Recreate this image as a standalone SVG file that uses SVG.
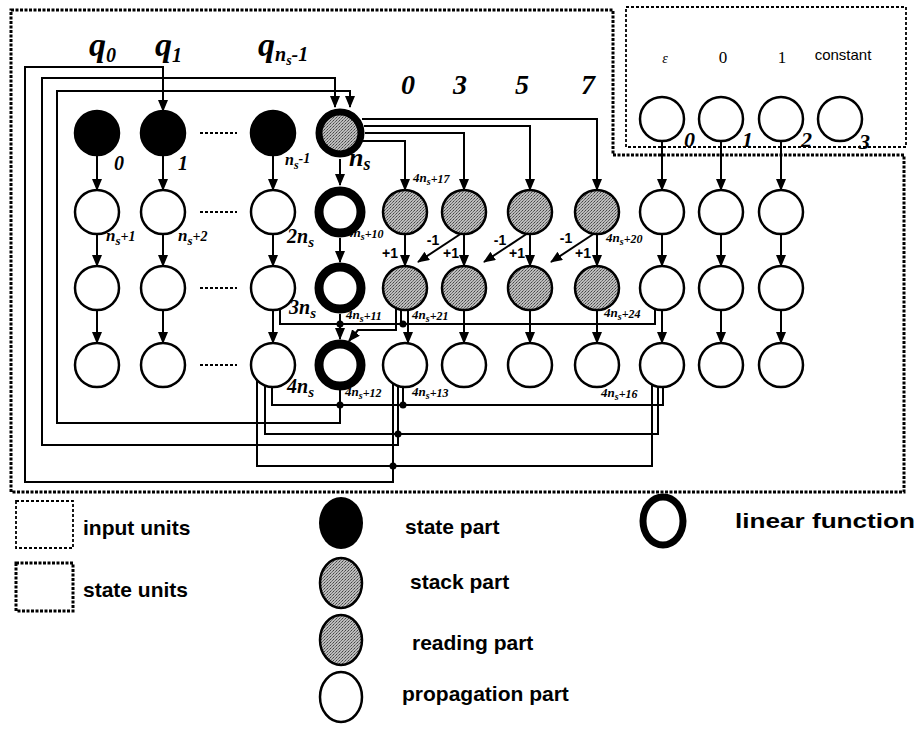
<svg xmlns="http://www.w3.org/2000/svg" width="924" height="731" viewBox="0 0 924 731">
<style>
.c{fill:#fff;stroke:#000;stroke-width:2.5}
.blk{fill:#000;stroke:#000;stroke-width:2.5}
.gr{fill:url(#stip);stroke:#000;stroke-width:2.5}
.lin{fill:#fff;stroke:#000;stroke-width:9}
.nsr{fill:url(#stip);stroke:#000;stroke-width:7}
.ln{fill:none;stroke:#000;stroke-width:2}
.ar{fill:none;stroke:#000;stroke-width:2;marker-end:url(#ah)}
.dots{fill:none;stroke:#000;stroke-width:2;stroke-dasharray:3 2}
.lb{font-family:"Liberation Serif",serif;font-weight:bold;font-style:italic;fill:#000}
.pm{font-family:"Liberation Sans",sans-serif;font-weight:bold;font-size:14px;fill:#000;text-anchor:middle}
.lg{font-family:"Liberation Sans",sans-serif;font-weight:bold;font-size:21px;fill:#000}
.jn{fill:#000}
</style>
<defs>
<marker id="ah" markerWidth="12" markerHeight="10" refX="11" refY="5" orient="auto" markerUnits="userSpaceOnUse"><path d="M0,0 L12,5 L0,10 z" fill="#000"/></marker>
<pattern id="stip" width="3" height="3" patternUnits="userSpaceOnUse"><rect width="3" height="3" fill="#bcbcbc"/><rect width="1" height="1" fill="#444"/><rect x="2" y="1" width="1" height="1" fill="#666"/><rect x="1" y="2" width="1" height="1" fill="#777"/></pattern>
</defs>

<g id="boxes">
<path d="M11,10 H613 V155 H904 V492 H11 Z" fill="none" stroke="#000" stroke-width="3" stroke-dasharray="3 1.5"/>
<rect x="626" y="7" width="280" height="140" fill="none" stroke="#000" stroke-width="1.8" stroke-dasharray="3 2"/>
</g>

<g id="connectors">
<!-- feedback loops -->
<path class="ar" d="M393,384 V482 H25 V67 H163 V111"/>
<path class="ar" d="M398,386 V445 H42 V78 H335 V107"/>
<path class="ar" d="M340,390 V423 H57 V91 H350 V107"/>
<!-- buses at bottom -->
<path class="ln" d="M272,387 V405 H663 V387"/>
<path class="ln" d="M403,387 V405"/>
<path class="ln" d="M265,385 V434 H658 V386"/>
<path class="ln" d="M257,380 V466 H652 V384"/>
<circle class="jn" cx="340" cy="405" r="3.5"/>
<circle class="jn" cx="403" cy="405" r="3.5"/>
<circle class="jn" cx="398" cy="434" r="3.5"/>
<circle class="jn" cx="393" cy="466" r="3.5"/>
<!-- row 3 bus -->
<path class="ln" d="M280,309 V324 H655 V309"/>
<path class="ln" d="M401,310 V324"/>
<circle class="jn" cx="340" cy="324" r="3.5"/>
<circle class="jn" cx="403" cy="324" r="3.5"/>
<path class="ar" d="M396,309 V330 H358 L349,341"/>
<!-- from ns to stack -->
<path class="ar" d="M362,119 H597 V190"/>
<path class="ar" d="M364,126 H530 V190"/>
<path class="ar" d="M365,133 H464 V190"/>
<path class="ar" d="M362,141 H405 V190"/>
<!-- input to row 2 -->
<path class="ar" d="M662,142 V190"/>
<path class="ar" d="M721,142 V190"/>
<path class="ar" d="M781,142 V190"/>
<!-- row1 -> row2 -->
<path class="ar" d="M97,155 V190"/>
<path class="ar" d="M163,155 V190"/>
<path class="ar" d="M273,155 V190"/>
<path class="ar" d="M340,159 V185"/>
<!-- row2 -> row3 -->
<path class="ar" d="M97,234 V266"/>
<path class="ar" d="M163,234 V266"/>
<path class="ar" d="M273,234 V266"/>
<path class="ar" d="M340,238 V262"/>
<path class="ar" d="M405,234 V266"/>
<path class="ar" d="M464,234 V266"/>
<path class="ar" d="M530,234 V266"/>
<path class="ar" d="M597,234 V266"/>
<path class="ar" d="M662,234 V266"/>
<path class="ar" d="M721,234 V266"/>
<path class="ar" d="M781,234 V266"/>
<!-- diagonals -->
<path class="ar" d="M462,233 L418,262"/>
<path class="ar" d="M528,233 L484,262"/>
<path class="ar" d="M595,233 L551,262"/>
<!-- row3 -> row4 -->
<path class="ar" d="M97,310 V343"/>
<path class="ar" d="M163,310 V343"/>
<path class="ar" d="M273,310 V343"/>
<path class="ar" d="M340,314 V339"/>
<path class="ar" d="M408,310 V343"/>
<path class="ar" d="M464,310 V343"/>
<path class="ar" d="M530,310 V343"/>
<path class="ar" d="M597,310 V343"/>
<path class="ar" d="M662,310 V343"/>
<path class="ar" d="M721,310 V343"/>
<path class="ar" d="M781,310 V343"/>
<!-- ellipsis dots -->
<path class="dots" d="M200,133 H237 M200,212 H237 M200,288 H237 M200,365 H237"/>
</g>

<g id="top-labels">
<text class="lb" x="89" y="56" font-size="34">q<tspan font-size="20" dy="6">0</tspan></text>
<text class="lb" x="155" y="56" font-size="34">q<tspan font-size="20" dy="6">1</tspan></text>
<text class="lb" x="258" y="56" font-size="34">q<tspan font-size="20" dy="5">n</tspan><tspan font-size="14" dy="4">s</tspan><tspan font-size="20" dy="-4">-1</tspan></text>
<text class="lb" x="408" y="94" font-size="28" text-anchor="middle">0</text>
<text class="lb" x="460" y="94" font-size="28" text-anchor="middle">3</text>
<text class="lb" x="522" y="94" font-size="28" text-anchor="middle">5</text>
<text class="lb" x="588" y="94" font-size="28" text-anchor="middle">7</text>
</g>

<g id="input-units">
<text x="665" y="63" font-family="Liberation Serif,serif" font-style="italic" font-size="14" text-anchor="middle">ε</text>
<text x="723" y="63" font-family="Liberation Serif,serif" font-size="17" text-anchor="middle">0</text>
<text x="782" y="63" font-family="Liberation Serif,serif" font-size="17" text-anchor="middle">1</text>
<text x="843" y="60" font-family="Liberation Sans,sans-serif" font-size="15" text-anchor="middle">constant</text>
<g id="in0"><circle class="c" cx="662" cy="119" r="22"/><text class="lb" x="684" y="147" font-size="22">0</text></g>
<g id="in1"><circle class="c" cx="721" cy="119" r="22"/><text class="lb" x="742" y="147" font-size="22">1</text></g>
<g id="in2"><circle class="c" cx="781" cy="119" r="22"/><text class="lb" x="801" y="147" font-size="22">2</text></g>
<g id="in3"><circle class="c" cx="840" cy="119" r="22"/><text class="lb" x="859" y="149" font-size="22">3</text></g>
</g>

<g id="state-units">
<g id="s0"><circle class="blk" cx="97" cy="133" r="22"/><text class="lb" x="114" y="170" font-size="20">0</text></g>
<g id="s1"><circle class="blk" cx="163" cy="133" r="22"/><text class="lb" x="178" y="170" font-size="20">1</text></g>
<g id="s-ns-1"><circle class="blk" cx="273" cy="133" r="22"/><text class="lb" x="285" y="165" font-size="16">n<tspan font-size="12" dy="4">s</tspan><tspan font-size="14" dy="-6">-1</tspan></text></g>
<g id="s-ns"><circle class="nsr" cx="340" cy="133" r="21"/><text class="lb" x="349" y="166" font-size="26">n<tspan font-size="18" dy="4">s</tspan></text></g>

<g id="p-ns1"><circle class="c" cx="97" cy="212" r="22"/><text class="lb" x="106" y="241" font-size="17">n<tspan font-size="13" dy="4">s</tspan><tspan font-size="14" dy="-4">+1</tspan></text></g>
<g id="p-ns2"><circle class="c" cx="163" cy="212" r="22"/><text class="lb" x="178" y="241" font-size="17">n<tspan font-size="13" dy="4">s</tspan><tspan font-size="14" dy="-4">+2</tspan></text></g>
<g id="p-2ns"><circle class="c" cx="273" cy="212" r="22"/><text class="lb" x="287" y="243" font-size="20">2n<tspan font-size="15" dy="4">s</tspan></text></g>
<g id="l-4ns10"><circle class="lin" cx="340" cy="212" r="21"/><text class="lb" x="347" y="237" font-size="13">4n<tspan font-size="10" dy="3">s</tspan><tspan font-size="12" dy="-2">+10</tspan></text></g>
<g id="k-1"><circle class="gr" cx="405" cy="212" r="22"/><text class="lb" x="413" y="182" font-size="13">4n<tspan font-size="10" dy="3">s</tspan><tspan font-size="12" dy="-2">+17</tspan></text></g>
<g id="k-2"><circle class="gr" cx="464" cy="212" r="22"/></g>
<g id="k-3"><circle class="gr" cx="530" cy="212" r="22"/></g>
<g id="k-4"><circle class="gr" cx="597" cy="212" r="22"/><text class="lb" x="606" y="242" font-size="13">4n<tspan font-size="10" dy="3">s</tspan><tspan font-size="12" dy="-2">+20</tspan></text></g>
<g id="p-r2-i"><circle class="c" cx="662" cy="212" r="22"/></g>
<g id="p-r2-j"><circle class="c" cx="721" cy="212" r="22"/></g>
<g id="p-r2-k"><circle class="c" cx="781" cy="212" r="22"/></g>

<g id="p-r3-a"><circle class="c" cx="97" cy="288" r="22"/></g>
<g id="p-r3-b"><circle class="c" cx="163" cy="288" r="22"/></g>
<g id="p-3ns"><circle class="c" cx="273" cy="288" r="22"/><text class="lb" x="289" y="314" font-size="20">3n<tspan font-size="15" dy="4">s</tspan></text></g>
<g id="l-4ns11"><circle class="lin" cx="340" cy="288" r="21"/><text class="lb" x="346" y="319" font-size="13">4n<tspan font-size="10" dy="3">s</tspan><tspan font-size="12" dy="-2">+11</tspan></text></g>
<g id="r-1"><circle class="gr" cx="405" cy="288" r="22"/><text class="lb" x="412" y="319" font-size="13">4n<tspan font-size="10" dy="3">s</tspan><tspan font-size="12" dy="-2">+21</tspan></text></g>
<g id="r-2"><circle class="gr" cx="464" cy="288" r="22"/></g>
<g id="r-3"><circle class="gr" cx="530" cy="288" r="22"/></g>
<g id="r-4"><circle class="gr" cx="597" cy="288" r="22"/><text class="lb" x="604" y="317" font-size="13">4n<tspan font-size="10" dy="3">s</tspan><tspan font-size="12" dy="-2">+24</tspan></text></g>
<g id="p-r3-i"><circle class="c" cx="662" cy="288" r="22"/></g>
<g id="p-r3-j"><circle class="c" cx="721" cy="288" r="22"/></g>
<g id="p-r3-k"><circle class="c" cx="781" cy="288" r="22"/></g>

<g id="p-r4-a"><circle class="c" cx="97" cy="365" r="22"/></g>
<g id="p-r4-b"><circle class="c" cx="163" cy="365" r="22"/></g>
<g id="p-4ns"><circle class="c" cx="273" cy="365" r="22"/><text class="lb" x="287" y="393" font-size="20">4n<tspan font-size="15" dy="4">s</tspan></text></g>
<g id="l-4ns12"><circle class="lin" cx="340" cy="365" r="21"/><text class="lb" x="345" y="396" font-size="13">4n<tspan font-size="10" dy="3">s</tspan><tspan font-size="12" dy="-2">+12</tspan></text></g>
<g id="p-4ns13"><circle class="c" cx="405" cy="365" r="22"/><text class="lb" x="412" y="396" font-size="13">4n<tspan font-size="10" dy="3">s</tspan><tspan font-size="12" dy="-2">+13</tspan></text></g>
<g id="p-r4-f"><circle class="c" cx="464" cy="365" r="22"/></g>
<g id="p-r4-g"><circle class="c" cx="530" cy="365" r="22"/></g>
<g id="p-r4-h"><circle class="c" cx="597" cy="365" r="22"/></g>
<g id="p-4ns16"><circle class="c" cx="662" cy="365" r="22"/><text class="lb" x="601" y="397" font-size="13">4n<tspan font-size="10" dy="3">s</tspan><tspan font-size="12" dy="-2">+16</tspan></text></g>
<g id="p-r4-j"><circle class="c" cx="721" cy="365" r="22"/></g>
<g id="p-r4-k"><circle class="c" cx="781" cy="365" r="22"/></g>
</g>

<g id="weights">
<text class="pm" x="390" y="258">+1</text>
<text class="pm" x="433" y="245">-1</text>
<text class="pm" x="451" y="258">+1</text>
<text class="pm" x="500" y="245">-1</text>
<text class="pm" x="517" y="258">+1</text>
<text class="pm" x="566" y="243">-1</text>
<text class="pm" x="583" y="258">+1</text>
</g>

<g id="legend">
<rect x="16" y="501" width="57" height="47" fill="none" stroke="#000" stroke-width="1.8" stroke-dasharray="3 2"/>
<text class="lg" x="83" y="535">input units</text>
<rect x="16" y="563" width="57" height="48" fill="none" stroke="#000" stroke-width="3" stroke-dasharray="3 1.5"/>
<text class="lg" x="83" y="597">state units</text>
<ellipse cx="341" cy="523" rx="22" ry="26" fill="#000"/>
<text class="lg" x="405" y="534">state part</text>
<ellipse cx="341" cy="583" rx="21" ry="25" fill="url(#stip)" stroke="#000" stroke-width="2.5"/>
<text class="lg" x="410" y="589">stack part</text>
<ellipse cx="341" cy="640" rx="21" ry="25" fill="url(#stip)" stroke="#000" stroke-width="2.5"/>
<text class="lg" x="412" y="650">reading part</text>
<ellipse cx="341" cy="697" rx="21" ry="25" fill="#fff" stroke="#000" stroke-width="2.5"/>
<text class="lg" x="402" y="701">propagation part</text>
<ellipse cx="663" cy="521" rx="20" ry="24" fill="#fff" stroke="#000" stroke-width="7"/>
<text class="lg" x="735" y="528" font-size="22" textLength="180" lengthAdjust="spacingAndGlyphs">linear function</text>
</g>
</svg>
